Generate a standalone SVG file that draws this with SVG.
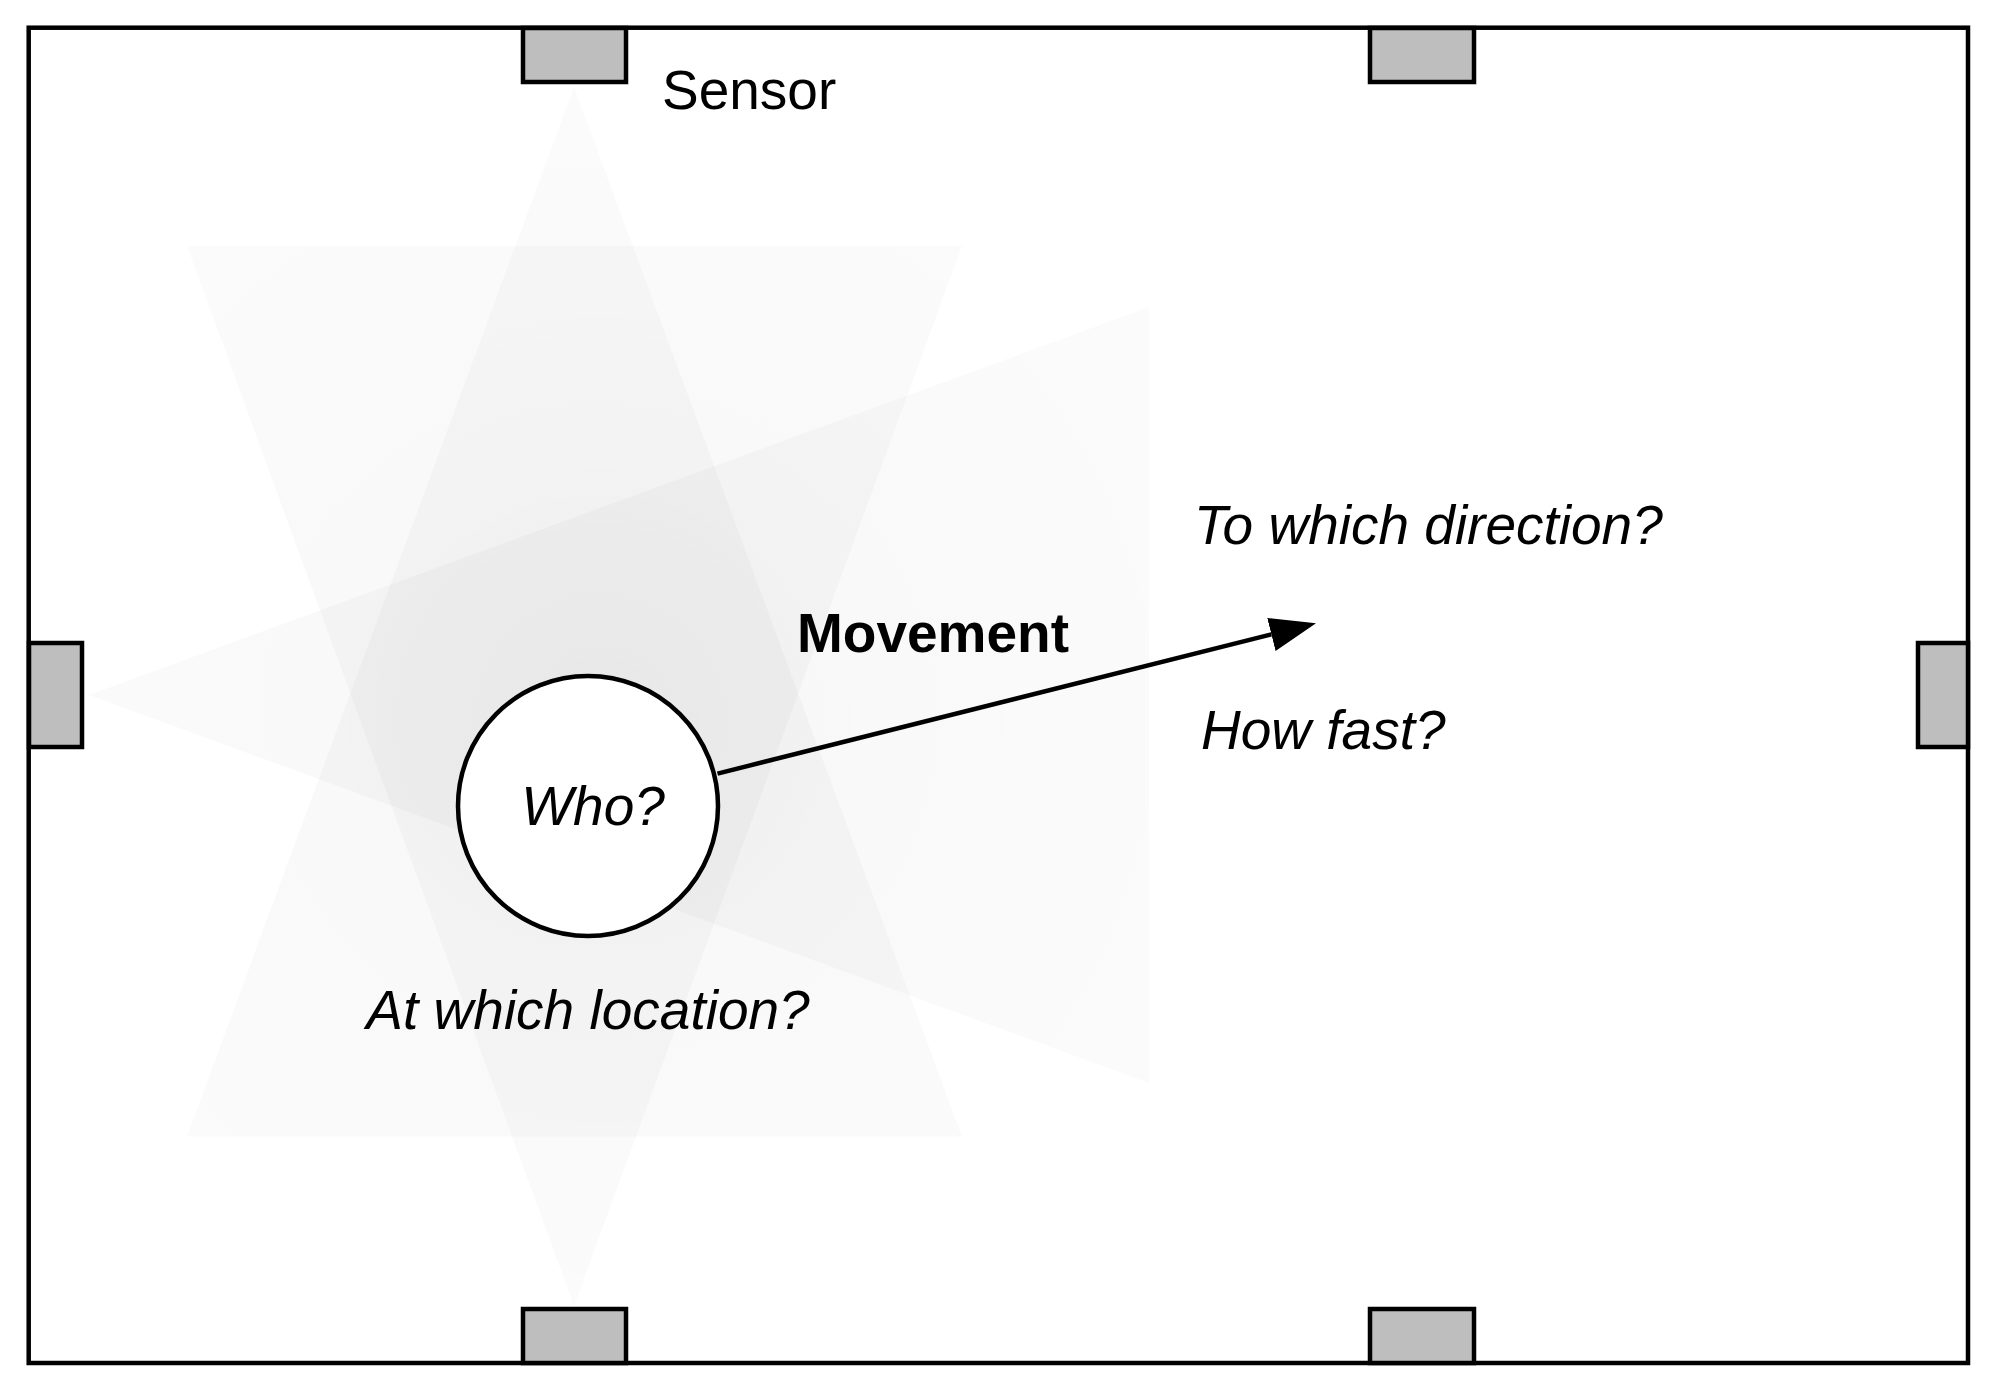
<svg xmlns="http://www.w3.org/2000/svg" width="1996" height="1391" viewBox="0 0 1996 1391">
  <style>
    .cone { fill: url(#coneFill); stroke: none; }
    .sensor { fill: #bebebe; stroke: #000000; stroke-width: 4.5; }
    .room { fill: none; stroke: #000000; stroke-width: 4.5; }
    .lbl { font-family: "Liberation Sans", Arial, Helvetica, sans-serif; font-size: 55px; fill: #000000; }
    .it { font-style: italic; }
    .bold { font-weight: bold; }
    .conn { stroke: #000000; stroke-width: 4.5; fill: none; }
  </style>
  <defs>
    <radialGradient id="coneFill" gradientUnits="userSpaceOnUse" cx="600" cy="720" r="620">
      <stop offset="0" stop-color="#000000" stop-opacity="0.032"/>
      <stop offset="1" stop-color="#000000" stop-opacity="0.016"/>
    </radialGradient>
    <marker id="arrow" markerUnits="userSpaceOnUse" markerWidth="46" markerHeight="34" viewBox="0 0 46 34" refX="0" refY="17" orient="auto">
      <path d="M0,0 L46,17 L0,34 Z" fill="#000000"/>
    </marker>
  </defs>
  <rect x="0" y="0" width="1996" height="1391" fill="#ffffff"/>

  <g id="cones">
    <polygon class="cone" points="574,87 187,1136.5 962,1136.5"/>
    <polygon class="cone" points="574,1306 187,246 962,246"/>
    <polygon class="cone" points="89,695 1149,307 1149,1083"/>
  </g>

  <g id="room">
    <rect class="room" x="28.7" y="27.7" width="1939.3" height="1335.3"/>
  </g>

  <g id="sensor-top-left"><rect class="sensor" x="523" y="28" width="103" height="54"/></g>
  <g id="sensor-top-right"><rect class="sensor" x="1370" y="28" width="104" height="54"/></g>
  <g id="sensor-bottom-left"><rect class="sensor" x="523" y="1309" width="103" height="54"/></g>
  <g id="sensor-bottom-right"><rect class="sensor" x="1370" y="1309" width="104" height="54"/></g>
  <g id="sensor-left"><rect class="sensor" x="29" y="643" width="53" height="104"/></g>
  <g id="sensor-right"><rect class="sensor" x="1918" y="643" width="50" height="104"/></g>

  <g id="connectors">
    <line class="conn" x1="717.5" y1="773.6" x2="1271.4" y2="634.4" marker-end="url(#arrow)"/>
  </g>

  <g id="person">
    <circle cx="588" cy="806" r="130" fill="#ffffff" stroke="#000000" stroke-width="4.5"/>
    <text class="lbl it" x="593" y="825" text-anchor="middle">Who?</text>
  </g>

  <g id="labels">
    <text class="lbl" x="662" y="109">Sensor</text>
    <text class="lbl bold" x="797" y="652">Movement</text>
    <text class="lbl it" x="1194" y="544">To which direction?</text>
    <text class="lbl it" x="1201" y="749">How fast?</text>
    <text class="lbl it" x="588" y="1029" text-anchor="middle">At which location?</text>
  </g>
</svg>
